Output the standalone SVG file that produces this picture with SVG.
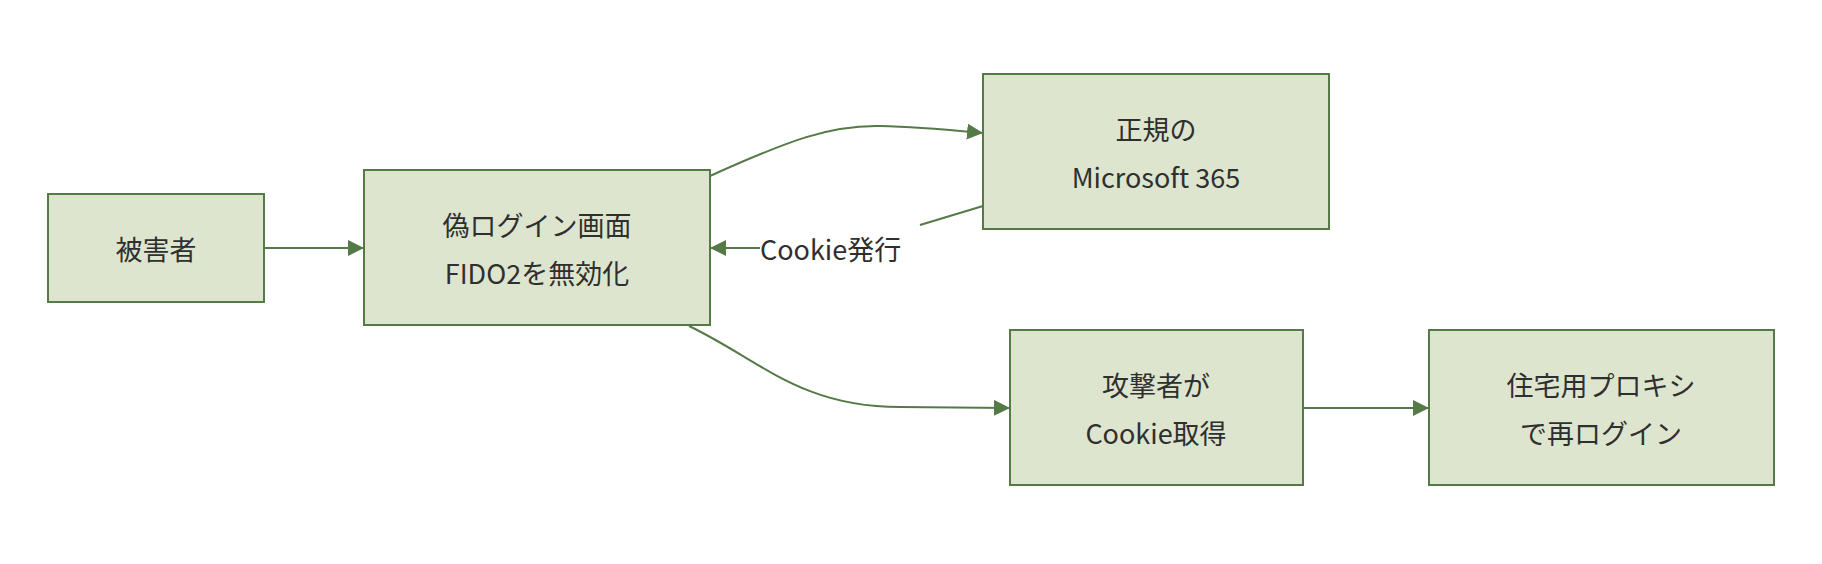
<svg xmlns="http://www.w3.org/2000/svg" width="1822" height="564" viewBox="0 0 1822 564">
<style>
.n rect{fill:#dde5cf;stroke:#557a48;stroke-width:2}
.n text{font-family:"Noto Sans CJK JP","Noto Sans",sans-serif;font-size:27px;fill:#2f2f2f;text-anchor:middle;dominant-baseline:central}
.e path{fill:none;stroke:#557a48;stroke-width:2}
.lbl{font-family:"Noto Sans CJK JP","Noto Sans",sans-serif;font-size:27px;fill:#2f2f2f;dominant-baseline:central}
</style>
<defs><marker id="a" viewBox="0 0 10 10" refX="10" refY="5" markerWidth="8" markerHeight="8" markerUnits="userSpaceOnUse" orient="auto"><path d="M0,0L10,5L0,10z" fill="#557a48"/></marker>
<marker id="ah" viewBox="0 0 10 10" refX="10" refY="5" markerWidth="16" markerHeight="16" markerUnits="userSpaceOnUse" orient="auto"><path d="M0,0L10,5L0,10z" fill="#557a48"/></marker></defs>
<g class="e">
<path d="M264,248 L364,248" marker-end="url(#ah)"/>
<path d="M710,176 C790,140 830,125 880,126 C920,127 950,130 983,133" marker-end="url(#ah)"/>
<path d="M983,206 L920,225"/>
<path d="M760,248 L710,248" marker-end="url(#ah)"/>
<path d="M689,326 C760,360 800,407 900,407 L1010,408" marker-end="url(#ah)"/>
<path d="M1303,408 L1429,408" marker-end="url(#ah)"/>
</g>
<text class="lbl" x="760" y="248">Cookie発行</text>
<g id="victim" class="n"><rect x="48" y="194" width="216" height="108"/><text x="156" y="248">被害者</text></g>
<g id="fake" class="n"><rect x="364" y="170" width="346" height="155"/><text x="537" y="224">偽ログイン画面</text><text x="537" y="272">FIDO2を無効化</text></g>
<g id="ms" class="n"><rect x="983" y="74" width="346" height="155"/><text x="1156" y="128">正規の</text><text x="1156" y="176">Microsoft 365</text></g>
<g id="attacker" class="n"><rect x="1010" y="330" width="293" height="155"/><text x="1156" y="384">攻撃者が</text><text x="1156" y="432">Cookie取得</text></g>
<g id="proxy" class="n"><rect x="1429" y="330" width="345" height="155"/><text x="1601" y="384">住宅用プロキシ</text><text x="1601" y="432">で再ログイン</text></g>
</svg>
